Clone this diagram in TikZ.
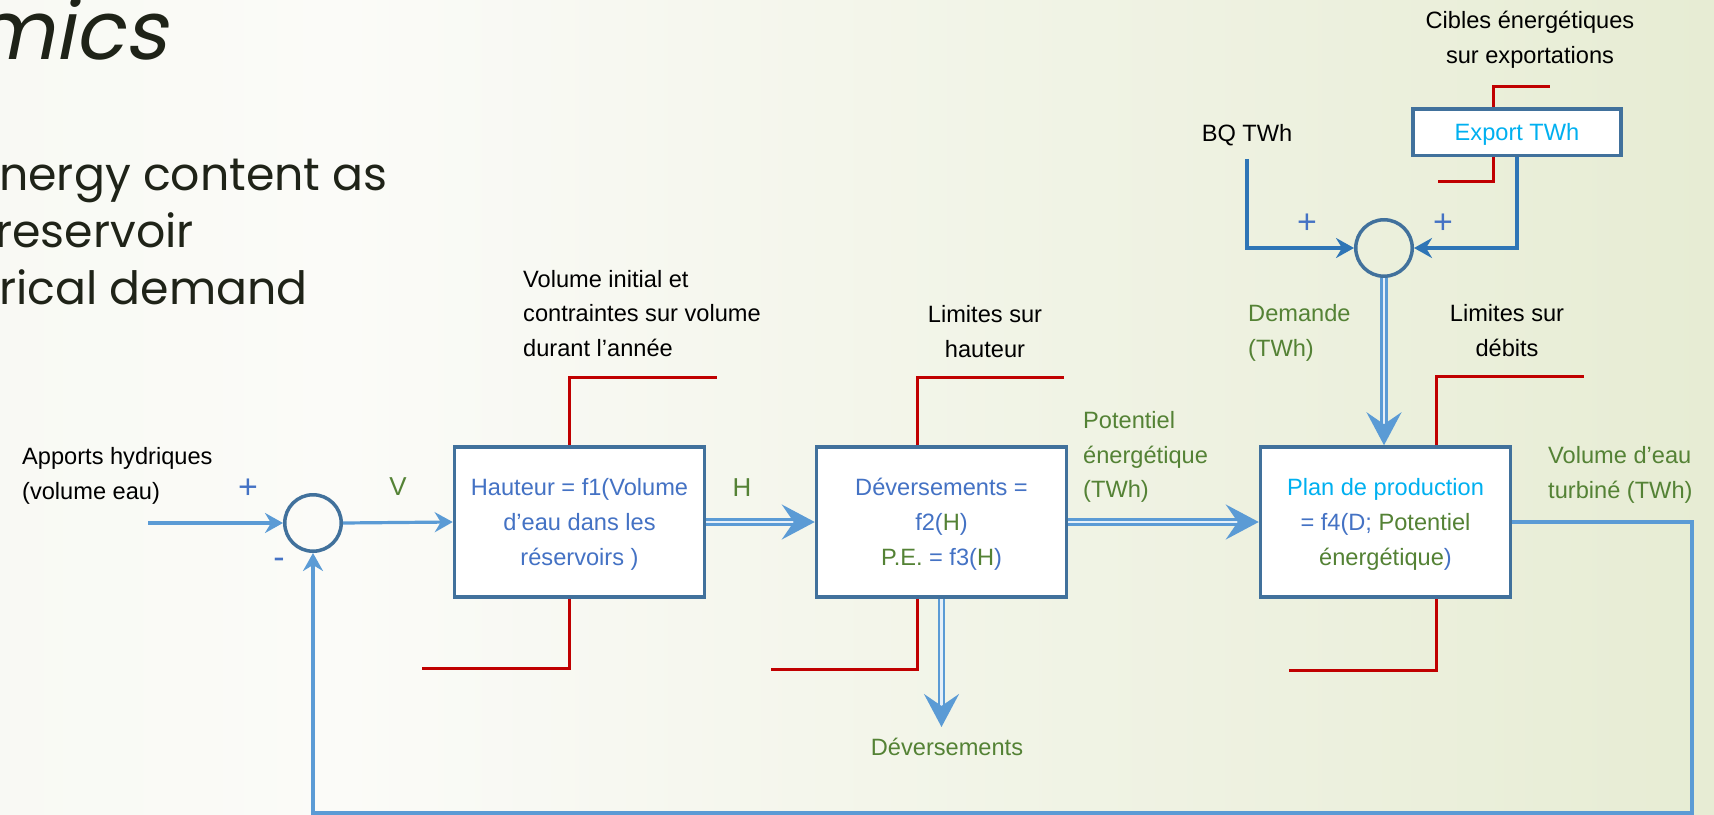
\documentclass[tikz,border=0pt]{standalone}
\usepackage{fontspec}
\setmainfont{Liberation Sans}
\newfontfamily\slidefont{Poppins}
\newfontfamily\slideslant{Poppins}[FakeSlant=0.2]
\usetikzlibrary{arrows.meta, positioning}

\definecolor{boxblue}{HTML}{41719C}
\definecolor{flowblue}{HTML}{5B9BD5}
\definecolor{darkflow}{HTML}{2E75B6}
\definecolor{limred}{HTML}{C00000}
\definecolor{txtgreen}{HTML}{548235}
\definecolor{txtblue}{HTML}{4472C4}
\definecolor{txtcyan}{HTML}{00B0F0}
\definecolor{slideink}{HTML}{1F2318}
\definecolor{bgleft}{HTML}{F2F5E9}
\definecolor{bgmid}{HTML}{FBFBF8}
\definecolor{bgright}{HTML}{DAE3BD}

\pgfdeclarehorizontalshading{slidebg}{100bp}{color(0bp)=(bgleft); color(35bp)=(bgmid); color(100bp)=(bgright)}

\begin{document}
\begin{tikzpicture}[
    x=1bp, y=-1bp,
    txt/.style={font=\fontsize{23.7}{35}\selectfont, inner sep=0pt, align=left},
    block/.style={
        txt,
        draw=boxblue,
        line width=3.5bp,
        fill=white,
        text=txtblue,
        align=center,
        text depth=-4bp,
        minimum width=250bp,
        minimum height=150bp
    },
    sum/.style={circle, draw=boxblue, line width=3.5bp, minimum size=56.5bp, inner sep=0pt},
    flow/.style={draw=flowblue, line width=3.2bp, -{Stealth[length=18bp, width=20bp, inset=6bp]}},
    feed/.style={flow, draw=darkflow},
    dblflow/.style={draw=flowblue, line width=2.4bp, double=flowblue!15, double distance=2.6bp,
        -{Stealth[length=33bp, width=35bp, inset=12bp]}},
    limit/.style={draw=limred, line width=3bp},
    note/.style={txt, text=black},
    qty/.style={txt, text=txtgreen},
    sign/.style={txt, font=\fontsize{34}{40}\selectfont, text=txtblue},
    slide/.style={font=\slidefont\fontsize{46}{57}\selectfont, text=slideink, inner sep=0pt, anchor=base east}
]
\useasboundingbox (0,0) rectangle (1714,815);
\shade[shading=slidebg] (0,0) rectangle (1714,815);

% slide text behind the diagram
\node[slide, font=\slideslant\fontsize{82}{90}\selectfont] (title) at (167,60) {mics};
\node[slide] (bullet1) at (388,190) {nergy content as};
\node[slide] (bullet2) at (194,247) {reservoir};
\node[slide] (bullet3) at (308,304) {rical demand};

% blocks
\node[block] (hauteur) at (579.5,522) {Hauteur = f1(Volume\\d’eau dans les\\réservoirs )};
\node[block] (deverse) at (941.5,522) {Déversements =\\f2(\textcolor{txtgreen}{H})\\\textcolor{txtgreen}{P.E.} = f3(\textcolor{txtgreen}{H})};
\node[block] (plan) at (1385.5,522) {\textcolor{txtcyan}{Plan de production}\\= f4(D; \textcolor{txtgreen}{Potentiel}\\\textcolor{txtgreen}{énergétique})};
\node[block, minimum width=208bp, minimum height=46.5bp, text=txtcyan, text depth=0pt] (export) at (1517,132) {Export TWh};

% summing points
\node[sum] (sumV) at (313,523) {};
\node[sum] (sumD) at (1384,248) {};
\coordinate (inflow) at (148,523);
\coordinate (retour) at (1692,813);

% labels
\node[note, anchor=west] (apports) at (22,476) {Apports hydriques\\(volume eau)};
\node[sign] (plusV) at (248,489) {+};
\node[sign] (minusV) at (279,563) {-};
\node[qty, font=\fontsize{26}{30}\selectfont] (labV) at (398,487) {V};
\node[qty, font=\fontsize{26}{30}\selectfont] (labH) at (742,488) {H};
\node[note, anchor=west] (volinit) at (523,313.5) {Volume initial et\\contraintes sur volume\\durant l’année};
\node[note, align=center] (limH) at (985,331.5) {Limites sur\\hauteur};
\node[qty, anchor=west] (potentiel) at (1083,457) {Potentiel\\énergétique\\(TWh)};
\node[qty, anchor=west] (demande) at (1248,332.5) {Demande\\(TWh)};
\node[note, align=center] (limD) at (1507,330.5) {Limites sur\\débits};
\node[qty, anchor=west] (turbine) at (1548,475) {Volume d’eau\\turbiné (TWh)};
\node[qty] (devlabel) at (947,747) {Déversements};
\node[note, align=center] (cibles) at (1530,40) {Cibles énergétiques\\sur exportations};
\node[note] (bq) at (1247,135) {BQ TWh};
\node[sign] (plusBQ) at (1307,224) {+};
\node[sign] (plusEx) at (1443,224) {+};

% constraints
\draw[limit] ([xshift=-10bp]hauteur.north) |- +(147,-68);
\draw[limit] ([xshift=-10bp]hauteur.south) |- +(-148,70);
\draw[limit] ([xshift=-24.5bp]deverse.north) |- +(147,-68);
\draw[limit] ([xshift=-24.5bp]deverse.south) |- +(-146,71);
\draw[limit] ([xshift=50.5bp]plan.north) |- +(148,-69);
\draw[limit] ([xshift=50.5bp]plan.south) |- +(-147,72);
\draw[limit] ([xshift=-23.5bp]export.north) |- +(56.5,-20);
\draw[limit] ([xshift=-23.5bp]export.south) |- +(-55.5,24);

% flows
\draw[flow] (inflow) -- (sumV.west);
\draw[flow] (sumV.east) -- (hauteur.west);
\draw[dblflow] (hauteur.east) -- (deverse.west);
\draw[dblflow] (deverse.east) -- (plan.west);
\draw[dblflow, shorten >=11bp] (deverse.south) -- (deverse.south |- devlabel.north);
\draw[feed, shorten <=13bp] (bq.south) |- (sumD.west);
\draw[feed] (export.south) |- (sumD.east);
\draw[dblflow] (sumD.south) -- (sumD.south |- plan.north);
\draw[flow] (plan.east) -| (retour) -| (sumV.south);

\end{tikzpicture}
\end{document}
